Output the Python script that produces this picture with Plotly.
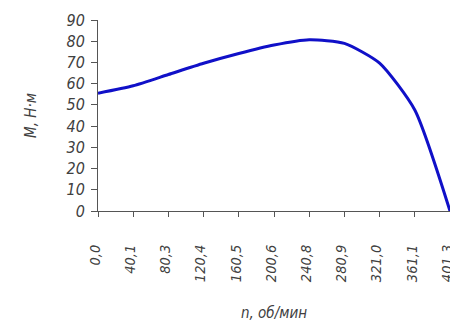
import plotly.graph_objects as go

speed_labels = ["0,0", "40,1", "80,3", "120,4", "160,5", "200,6", "240,8", "280,9", "321,0", "361,1", "401,3"]
torque = [55.5, 59.0, 64.3, 69.6, 74.2, 78.2, 80.7, 79.0, 69.7, 47.6, 0.0]

FONT = "DejaVu Sans Condensed, Liberation Sans Narrow, DejaVu Sans"
yfnt = dict(family=FONT, size=16, color="#404040", style="italic")
xfnt = dict(family=FONT, size=14.5, color="#404040", style="italic")
tfnt = dict(family=FONT, size=15, color="#404040", style="italic")

fig = go.Figure()
fig.add_trace(go.Scatter(
    x=speed_labels, y=torque, mode="lines",
    line=dict(color="#1010c8", width=3, shape="spline", smoothing=0.6),
    showlegend=False, hoverinfo="skip",
))

# page body has an 8px margin, so the figure is 8px smaller than the window
fig.update_layout(
    width=450, height=314,
    margin=dict(l=90, r=8, t=12, b=111),
    paper_bgcolor="white", plot_bgcolor="white",
    xaxis=dict(
        type="category", range=[0, 10], automargin=False,
        showgrid=False, zeroline=False,
        showline=True, linecolor="#555", linewidth=1,
        ticks="outside", ticklen=5, tickcolor="#555",
        tickangle=-90, tickfont=xfnt, ticklabelstandoff=22,
        ticklabelshift=-3,
        title=dict(text="n, об/мин", font=tfnt, standoff=30),
    ),
    yaxis=dict(
        range=[0, 90], dtick=10, automargin=False,
        showgrid=False, zeroline=False,
        showline=True, linecolor="#555", linewidth=1,
        ticks="outside", ticklen=6, tickcolor="#555",
        tickfont=yfnt, ticklabelstandoff=3,
        title=dict(text="M, Н·м", font=tfnt, standoff=26),
    ),
)

fig.write_html("out.html")
